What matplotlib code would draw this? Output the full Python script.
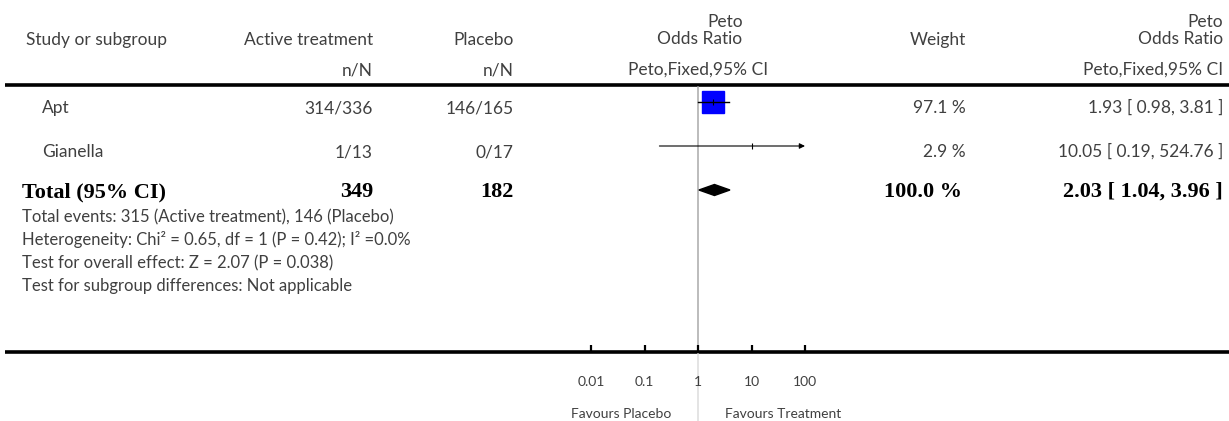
import matplotlib.pyplot as plt
from matplotlib.patches import Polygon

# study rows
studies = ['Apt', 'Gianella']
treat_events = [314, 1]
treat_total = [336, 13]
plac_events = [146, 0]
plac_total = [165, 17]
weights = [97.1, 2.9]
odds = [1.93, 10.05]
ci_low = [0.98, 0.19]
ci_high = [3.81, 524.76]

# pooled result
total_treat = 349
total_plac = 182
total_weight = 100.0
total_or = 2.03
total_low = 1.04
total_high = 3.96

notes = [
    'Total events: 315 (Active treatment), 146 (Placebo)',
    'Heterogeneity: Chi\u00b2 = 0.65, df = 1 (P = 0.42); I\u00b2 =0.0%',
    'Test for overall effect: Z = 2.07 (P = 0.038)',
    'Test for subgroup differences: Not applicable',
]

ticks = [0.01, 0.1, 1, 10, 100]
tick_labels = ['0.01', '0.1', '1', '10', '100']

W, H = 1229, 421
fig = plt.figure(figsize=(W / 100, H / 100), dpi=100)

sans = 'Lato'
serif = 'Liberation Serif'
grey = '#404040'
fs = 12.5
bfs = 16

# table axes in pixel units
tab = fig.add_axes([0, 0, 1, 1])
tab.set_xlim(0, W)
tab.set_ylim(H, 0)
tab.axis('off')

# forest axes, log scale, 0.01..100 spans x 591..805 px
x0, x1 = 591, 805
fp = fig.add_axes([x0 / W, 0, (x1 - x0) / W, 1])
fp.set_xscale('log')
fp.set_xlim(0.01, 100)
fp.set_ylim(H, 0)
fp.axis('off')

x_name, x_treat, x_plac, x_mid, x_wt, x_or = 26, 373, 514, 698, 966, 1223


def txt(x, y, s, ha='left', **kw):
    kw.setdefault('fontsize', fs)
    kw.setdefault('family', sans)
    kw.setdefault('color', grey)
    return tab.text(x, y, s, ha=ha, va='baseline', **kw)


# header
txt(x_name, 45, 'Study or subgroup')
txt(x_treat, 45, 'Active treatment', ha='right')
txt(x_plac, 45, 'Placebo', ha='right')
txt(x_treat, 75, 'n/N', ha='right')
txt(x_plac, 75, 'n/N', ha='right')
txt(x_wt, 45, 'Weight', ha='right')
odds_head = txt(x_mid + 2, 44, 'Odds Ratio', ha='center')
fig.canvas.draw()
bb = odds_head.get_window_extent().transformed(tab.transData.inverted())
txt(max(bb.x0, bb.x1), 27, 'Peto', ha='right')
txt(x_mid, 75, 'Peto,Fixed,95% CI', ha='center')
txt(x_or, 27, 'Peto', ha='right')
txt(x_or, 44, 'Odds Ratio', ha='right')
txt(x_or, 75, 'Peto,Fixed,95% CI', ha='right')

tab.plot([5, W], [85, 85], color='black', lw=2.6, solid_capstyle='butt')
tab.plot([5, W], [352, 352], color='black', lw=2.6, solid_capstyle='butt')

# reference line at 1
fp.plot([1, 1], [87, 350], color='#aaaaaa', lw=1.1, zorder=1)
fp.plot([1, 1], [354, H], color='#dddddd', lw=1.1, zorder=1)

row_y = [102, 146]
max_w = max(weights)
for i, name in enumerate(studies):
    y = row_y[i]
    yb = y + 11
    txt(42, yb, name)
    txt(x_treat, yb, f'{treat_events[i]}/{treat_total[i]}', ha='right')
    txt(x_plac, yb, f'{plac_events[i]}/{plac_total[i]}', ha='right')
    txt(x_wt, yb, f'{weights[i]:.1f} %', ha='right')
    txt(x_or, yb, f'{odds[i]:.2f} [ {ci_low[i]:.2f}, {ci_high[i]:.2f} ]', ha='right')

    # box sized by weight
    side = 15.8 * weights[i] / max_w
    if side > 1.5:
        fp.plot(odds[i], y, marker='s', ms=side, color='#0000ff', mec='#0000ff', zorder=3)
    hi = min(ci_high[i], 100)
    if ci_high[i] > 100:
        fp.annotate('', xy=(hi, y), xytext=(ci_low[i], y),
                    arrowprops=dict(arrowstyle='-|>', color='black', lw=0.8,
                                    mutation_scale=8, shrinkA=0, shrinkB=0), zorder=4)
    else:
        fp.plot([ci_low[i], hi], [y, y], color='black', lw=1.0, zorder=4)
    fp.plot(odds[i], y, marker='|', ms=5, color='black', mew=0.8, zorder=5)

# total row
ty = 190
tb = 197
bold = dict(fontsize=bfs, family=serif, weight='bold', color='black')
txt(22, tb, 'Total (95% CI)', **bold)
txt(x_treat, tb, f'{total_treat}', ha='right', **bold)
txt(x_plac, tb, f'{total_plac}', ha='right', **bold)
txt(x_wt - 4, tb, f'{total_weight:.1f} %', ha='right', **bold)
txt(x_or, tb, f'{total_or:.2f} [ {total_low:.2f}, {total_high:.2f} ]', ha='right', **bold)
diamond = Polygon([(total_low, ty), (total_or, ty - 5.5), (total_high, ty), (total_or, ty + 5.5)],
                  closed=True, color='black', zorder=4)
fp.add_patch(diamond)

for i, note in enumerate(notes):
    txt(22, 222 + 23 * i, note, fontsize=12)

# scale ticks and labels
for t, lab in zip(ticks, tick_labels):
    fp.plot([t, t], [352, 345], color='black', lw=1.6, solid_capstyle='butt', clip_on=False)
    fp.text(t, 386, lab, ha='center', va='baseline', fontsize=10, family=sans, color=grey)

fp.text(10 ** -0.5, 418, 'Favours Placebo', ha='right', va='baseline', fontsize=10, family=sans, color=grey)
fp.text(10 ** 0.5, 418, 'Favours Treatment', ha='left', va='baseline', fontsize=10, family=sans, color=grey)

fig.savefig('out.png', dpi=100)
